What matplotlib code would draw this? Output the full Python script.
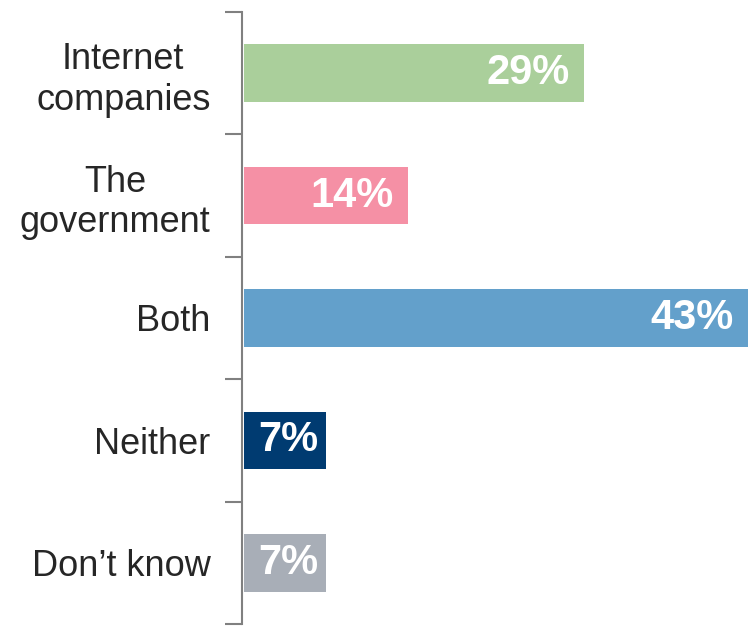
import matplotlib
matplotlib.use("Agg")
import matplotlib.pyplot as plt
from matplotlib.ticker import FixedLocator

plt.rcParams['font.family'] = ['Liberation Sans', 'DejaVu Sans']

categories = ["Internet\ncompanies", "The\ngovernment", "Both", "Neither", "Don\u2019t know"]
values = [29, 14, 43, 7, 7]
colors = ["#AACF9B", "#F590A5", "#63A0CB", "#003B71", "#A8AEB7"]

fig = plt.figure(figsize=(7.5, 6.27), dpi=100)
ax = fig.add_axes([244 / 750, 3 / 627, 504 / 750, 612 / 627])

n = len(categories)
ypos = list(range(n))
bars = ax.barh(ypos, values, height=0.47, color=colors, zorder=2)
ax.set_ylim(n - 0.5, -0.5)
ax.set_xlim(0, 43)

ax.set_yticks(ypos)
ax.set_yticklabels(categories)
ax.tick_params(axis="y", which="major", length=0, pad=23,
               labelsize=26, labelcolor="#262626")
ax.yaxis.set_minor_locator(FixedLocator([i - 0.5 for i in range(n + 1)]))
ax.tick_params(axis="y", which="minor", length=12, width=1.5, color="#808080")
ax.set_xticks([])

for side in ["top", "right", "bottom"]:
    ax.spines[side].set_visible(False)
ax.spines["left"].set_color("#808080")
ax.spines["left"].set_linewidth(1.5)
ax.spines["left"].set_position(("outward", 1.2))

fig.canvas.draw()
# Two-line category labels are centred on themselves
for lbl in ax.get_yticklabels():
    lbl.set_multialignment("center")
    lbl.set_linespacing(1.2)

# Value labels: right-aligned inside the bar end, but kept clear of the bar start
renderer = fig.canvas.get_renderer()
gap_px = 14
for y, v in zip(ypos, values):
    t = ax.annotate(f"{v}%", xy=(v, y), xytext=(-gap_px * 72 / fig.dpi, 0),
                    textcoords="offset points", ha="right", va="center",
                    color="white", fontsize=30, fontweight="bold", zorder=3)
    w = t.get_window_extent(renderer).width
    x0 = ax.transData.transform((0, y))[0]
    x1 = ax.transData.transform((v, y))[0]
    if x1 - gap_px - w < x0 + gap_px:
        shift = (x0 + gap_px + w) - x1
        t.set_position((shift * 72 / fig.dpi, 0))

fig.savefig("out.png", dpi=100)
